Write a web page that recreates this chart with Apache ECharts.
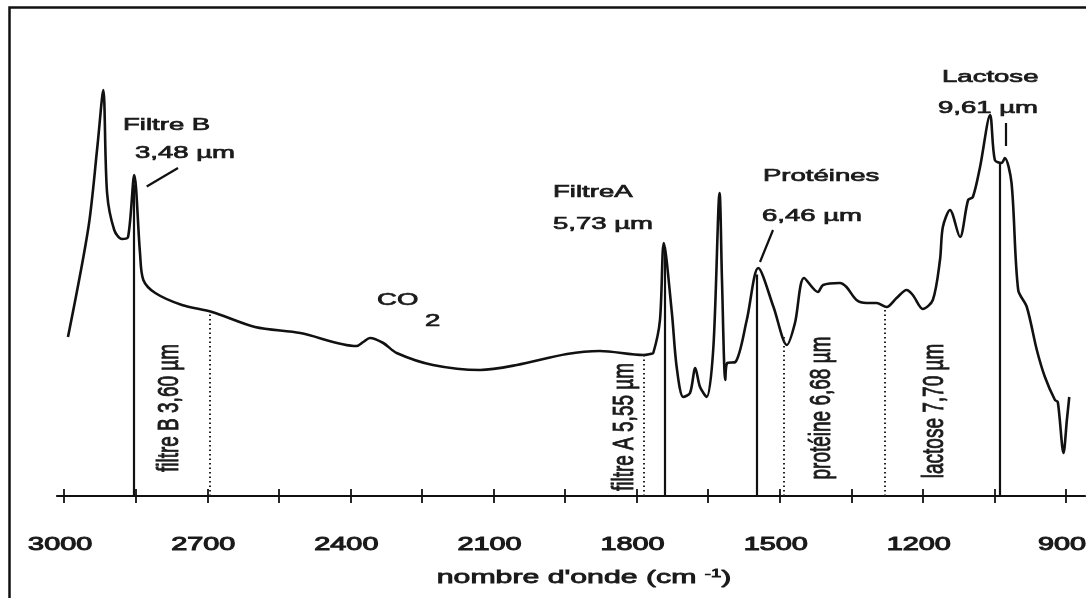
<!DOCTYPE html>
<html>
<head>
<meta charset="utf-8">
<script src="https://cdn.jsdelivr.net/npm/echarts@6/dist/echarts.min.js"></script>
<style>html,body{margin:0;padding:0;background:#fff}#c{width:1086px;height:598px}</style>
</head>
<body>
<div id="c"></div>
<script>
// ---- data ----
const wavenumber = [2992, 2949, 2930, 2918, 2910, 2895, 2879, 2866, 2853, 2841, 2834, 2809, 2753, 2690, 2600, 2505, 2387, 2373, 2359, 2331, 2303, 2227, 2128, 2051, 1946, 1877, 1786, 1772, 1765, 1751, 1743, 1726, 1716, 1702, 1688, 1677, 1667, 1653, 1639, 1626, 1621, 1614, 1610, 1593, 1569, 1545, 1513, 1485, 1468, 1449, 1420, 1409, 1374, 1360, 1339, 1318, 1297, 1276, 1255, 1234, 1221, 1200, 1179, 1164, 1158, 1143, 1122, 1105, 1095, 1080, 1059, 1049, 1035, 1028, 1014, 1000, 982, 961, 944, 923, 917, 905, 898, 893];
const absorbance = [159, 269, 351, 406, 303, 266, 257, 259, 321, 243, 216, 203, 191, 184, 169, 163, 150, 154, 158, 153, 143, 131, 126, 131, 142, 145, 141, 142, 143, 176, 253, 183, 129, 99, 103, 128, 109, 99, 149, 303, 216, 116, 133, 134, 176, 228, 189, 151, 173, 218, 204, 211, 213, 209, 196, 193, 193, 189, 198, 206, 201, 187, 196, 236, 269, 286, 259, 296, 299, 329, 381, 336, 333, 338, 313, 206, 189, 146, 119, 96, 94, 43, 76, 99];
const majorTicks = [3000, 2850, 2700, 2550, 2400, 2250, 2100, 1950, 1800, 1650, 1500, 1350, 1200, 1050, 900];
const tickLabels = [3000, 2700, 2400, 2100, 1800, 1500, 1200, 900];
const peakLines = [2855, 1742, 1548, 1038];     // solid lines: Filtre B, Filtre A, Protéines, Lactose
const filterLines = [2695, 1786, 1492, 1279];   // dotted reference lines

const FONT = '"Liberation Sans", Arial, sans-serif';
const INK = '#1a1a1a';

function interp(w) {
  for (let i = 0; i < wavenumber.length - 1; i++) {
    const a = wavenumber[i], b = wavenumber[i + 1];
    if (a >= w && b <= w) {
      const t = (a - w) / (a - b);
      return absorbance[i] + t * (absorbance[i + 1] - absorbance[i]);
    }
  }
  return 0;
}

const seriesData = wavenumber.map((w, i) => [w, absorbance[i]]);

const markData = [];
peakLines.forEach(w => markData.push([
  { coord: [w, 0], lineStyle: { type: 'solid', width: 2.2, color: '#111' } },
  { coord: [w, interp(w)] }
]));
filterLines.forEach(w => markData.push([
  { coord: [w, 0], lineStyle: { type: [1.5, 3], width: 2, color: '#222' } },
  { coord: [w, interp(w)] }
]));

const chart = echarts.init(document.getElementById('c'), null, { renderer: 'canvas' });

const axisCommon = {
  type: 'value', inverse: true, min: 860, max: 3015,
  splitLine: { show: false }, axisLabel: { show: false }
};

chart.setOption({
  animation: false,
  backgroundColor: '#fff',
  grid: { left: 57, top: 46, width: 1028, height: 450 },
  xAxis: [
    Object.assign({}, axisCommon, {
      position: 'bottom',
      axisLine: { show: true, onZero: false, lineStyle: { color: '#111', width: 2.2 } },
      axisTick: { show: true, customValues: majorTicks, length: 7, inside: false, lineStyle: { color: '#111', width: 1.8 } }
    }),
    Object.assign({}, axisCommon, {
      position: 'bottom', gridIndex: 0,
      axisLine: { show: false, onZero: false },
      axisTick: { show: true, customValues: majorTicks, length: 7, inside: true, lineStyle: { color: '#111', width: 1.8 } }
    })
  ],
  yAxis: { type: 'value', min: 0, max: 450, show: false },
  series: [{
    type: 'line',
    data: seriesData,
    showSymbol: false,
    smooth: 0.3,
    clip: false,
    lineStyle: { color: '#111', width: 2.6 },
    markLine: {
      silent: true, symbol: ['none', 'none'], label: { show: false },
      animation: false, data: markData
    }
  }]
});

function T(x, y, text, size, o) {
  o = o || {};
  return {
    type: 'text', x: x, y: y, silent: true, z: 20,
    rotation: o.rot || 0,
    scaleX: o.sx !== undefined ? o.sx : 1.62,
    scaleY: o.sy !== undefined ? o.sy : 1,
    style: {
      text: text, fontSize: size, fontFamily: FONT, fill: INK,
      stroke: INK, lineWidth: o.lw !== undefined ? o.lw : 0.7,
      textAlign: o.align || 'left', align: o.align || 'left',
      textVerticalAlign: 'middle', verticalAlign: 'middle',
      fontWeight: o.fw || 'normal',
      rich: o.rich
    }
  };
}
function L(x1, y1, x2, y2) {
  return { type: 'line', silent: true, z: 20, shape: { x1, y1, x2, y2 }, style: { stroke: '#111', lineWidth: 2.2 } };
}

const g = [];
// border
g.push({ type: 'rect', silent: true, z: 30, shape: { x: 9.5, y: 7.5, width: 1090, height: 600 }, style: { fill: 'none', stroke: '#111', lineWidth: 2.5 } });

// tick labels via the axis scale
const labelY = 545;
tickLabels.forEach(v => {
  const px = chart.convertToPixel({ xAxisIndex: 0 }, v);
  g.push(T(px - 4, labelY, String(v), 18, { align: 'center', sx: 1.6, lw: 1 }));
});
// axis title
g.push(T(584, 578, "{a|nombre d'onde (cm }{s|-1}{a|)}", 18, {
  align: 'center', sx: 1.68, lw: 0.8,
  rich: { a: { fontSize: 18, fontFamily: FONT, fill: INK, stroke: INK, lineWidth: 0.8 }, s: { fontSize: 11, fontFamily: FONT, fill: INK, verticalAlign: 'top', padding: [0, 0, 8, 0] } }
}));

// annotations
g.push(T(123, 125, 'Filtre B', 17));
g.push(T(135, 153, '3,48 µm', 17));
g.push(L(146.7, 186.5, 178, 168));
g.push(T(377, 300, 'CO', 17));
g.push(T(425, 321.5, '2', 17));
g.push(T(553, 192, 'FiltreA', 17));
g.push(T(553, 224, '5,73 µm', 17));
g.push(T(763, 176, 'Protéines', 17));
g.push(T(762, 216, '6,46 µm', 17));
g.push(L(773, 230, 760, 262));
g.push(T(942, 77, 'Lactose', 17));
g.push(T(938, 108, '9,61 µm', 17));
g.push(L(1006, 123, 1006, 146));

// rotated labels
const R = Math.PI / 2;
g.push(T(170, 408, 'filtre B 3,60 µm', 19, { rot: R, sx: 1, sy: 1.6, align: 'center', lw: 0.6 }));
g.push(T(625, 427, 'filtre A 5,55 µm', 19, { rot: R, sx: 1, sy: 1.6, align: 'center', lw: 0.6 }));
g.push(T(822, 408, 'protéine 6,68 µm', 19, { rot: R, sx: 1, sy: 1.6, align: 'center', lw: 0.6 }));
g.push(T(935, 411, 'lactose 7,70 µm', 19, { rot: R, sx: 1, sy: 1.6, align: 'center', lw: 0.6 }));

chart.setOption({ graphic: { elements: g } });
</script>
</body>
</html>
